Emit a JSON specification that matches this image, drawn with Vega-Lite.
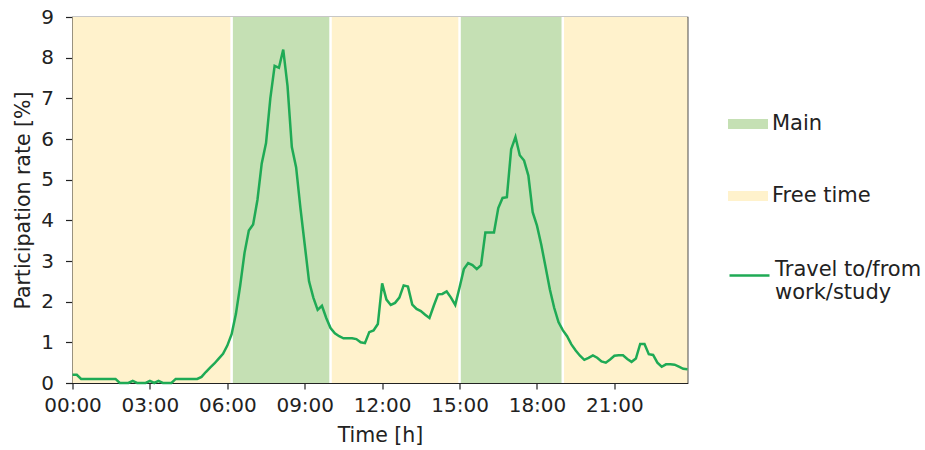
{
  "$schema": "https://vega.github.io/schema/vega-lite/v6.json",
  "width": 615,
  "height": 366,
  "autosize": {"type": "none"},
  "padding": {"left": 72.5, "top": 17, "right": 237.5, "bottom": 67},
  "background": "white",
  "config": {
    "font": "DejaVu Sans",
    "view": {"stroke": "#222222", "strokeWidth": 1.2},
    "axis": {
      "grid": false,
      "domainColor": "#222222",
      "domainWidth": 1.2,
      "tickColor": "#222222",
      "tickWidth": 1.2,
      "labelColor": "#222222",
      "titleColor": "#222222",
      "labelFontSize": 20,
      "titleFontSize": 20.5,
      "titleFontWeight": "normal",
      "labelOverlap": false,
      "labelFlush": false,
      "zindex": 1
    },
    "legend": {
      "labelColor": "#222222",
      "labelFontSize": 21,
      "padding": 0,
      "labelOffset": 4
    }
  },
  "datasets": {
    "bands": [
      {"activity": "Free time", "start": 0, "end": 370},
      {"activity": "Main", "start": 370, "end": 600},
      {"activity": "Free time", "start": 600, "end": 900},
      {"activity": "Main", "start": 900, "end": 1140},
      {"activity": "Free time", "start": 1140, "end": 1430}
    ],
    "travel": [
      {"minute": 0, "rate": 0.2}, {"minute": 10, "rate": 0.2}, {"minute": 20, "rate": 0.1},
      {"minute": 30, "rate": 0.1}, {"minute": 40, "rate": 0.1}, {"minute": 50, "rate": 0.1},
      {"minute": 60, "rate": 0.1}, {"minute": 70, "rate": 0.1}, {"minute": 80, "rate": 0.1},
      {"minute": 90, "rate": 0.1}, {"minute": 100, "rate": 0.1}, {"minute": 110, "rate": 0},
      {"minute": 120, "rate": 0}, {"minute": 130, "rate": 0}, {"minute": 140, "rate": 0.05},
      {"minute": 150, "rate": 0}, {"minute": 160, "rate": 0}, {"minute": 170, "rate": 0},
      {"minute": 180, "rate": 0.05}, {"minute": 190, "rate": 0}, {"minute": 200, "rate": 0.05},
      {"minute": 210, "rate": 0}, {"minute": 220, "rate": 0}, {"minute": 230, "rate": 0},
      {"minute": 240, "rate": 0.1}, {"minute": 250, "rate": 0.1}, {"minute": 260, "rate": 0.1},
      {"minute": 270, "rate": 0.1}, {"minute": 280, "rate": 0.1}, {"minute": 290, "rate": 0.1},
      {"minute": 300, "rate": 0.15}, {"minute": 310, "rate": 0.27}, {"minute": 320, "rate": 0.38},
      {"minute": 330, "rate": 0.48}, {"minute": 340, "rate": 0.6}, {"minute": 350, "rate": 0.72},
      {"minute": 360, "rate": 0.92}, {"minute": 370, "rate": 1.2}, {"minute": 380, "rate": 1.7},
      {"minute": 390, "rate": 2.4}, {"minute": 400, "rate": 3.2}, {"minute": 410, "rate": 3.75},
      {"minute": 420, "rate": 3.9}, {"minute": 430, "rate": 4.5}, {"minute": 440, "rate": 5.4},
      {"minute": 450, "rate": 5.9}, {"minute": 460, "rate": 7.0}, {"minute": 470, "rate": 7.8},
      {"minute": 480, "rate": 7.75}, {"minute": 490, "rate": 8.2}, {"minute": 500, "rate": 7.3},
      {"minute": 510, "rate": 5.8}, {"minute": 520, "rate": 5.3}, {"minute": 530, "rate": 4.3},
      {"minute": 540, "rate": 3.4}, {"minute": 550, "rate": 2.5}, {"minute": 560, "rate": 2.1},
      {"minute": 570, "rate": 1.8}, {"minute": 580, "rate": 1.9}, {"minute": 590, "rate": 1.6},
      {"minute": 600, "rate": 1.35}, {"minute": 610, "rate": 1.22}, {"minute": 620, "rate": 1.15},
      {"minute": 630, "rate": 1.1}, {"minute": 640, "rate": 1.1}, {"minute": 650, "rate": 1.1},
      {"minute": 660, "rate": 1.08}, {"minute": 670, "rate": 1.0}, {"minute": 680, "rate": 0.98},
      {"minute": 690, "rate": 1.25}, {"minute": 700, "rate": 1.29}, {"minute": 710, "rate": 1.45},
      {"minute": 720, "rate": 2.45}, {"minute": 730, "rate": 2.05}, {"minute": 740, "rate": 1.92},
      {"minute": 750, "rate": 1.97}, {"minute": 760, "rate": 2.1}, {"minute": 770, "rate": 2.4},
      {"minute": 780, "rate": 2.37}, {"minute": 790, "rate": 1.93}, {"minute": 800, "rate": 1.82},
      {"minute": 810, "rate": 1.77}, {"minute": 820, "rate": 1.68}, {"minute": 830, "rate": 1.6},
      {"minute": 840, "rate": 1.9}, {"minute": 850, "rate": 2.18}, {"minute": 860, "rate": 2.19},
      {"minute": 870, "rate": 2.25}, {"minute": 880, "rate": 2.1}, {"minute": 890, "rate": 1.92},
      {"minute": 900, "rate": 2.35}, {"minute": 910, "rate": 2.8}, {"minute": 920, "rate": 2.95},
      {"minute": 930, "rate": 2.9}, {"minute": 940, "rate": 2.8}, {"minute": 950, "rate": 2.9},
      {"minute": 960, "rate": 3.7}, {"minute": 970, "rate": 3.7}, {"minute": 980, "rate": 3.7},
      {"minute": 990, "rate": 4.3}, {"minute": 1000, "rate": 4.55}, {"minute": 1010, "rate": 4.57},
      {"minute": 1020, "rate": 5.75}, {"minute": 1030, "rate": 6.05}, {"minute": 1040, "rate": 5.6},
      {"minute": 1050, "rate": 5.47}, {"minute": 1060, "rate": 5.1}, {"minute": 1070, "rate": 4.2},
      {"minute": 1080, "rate": 3.87}, {"minute": 1090, "rate": 3.4}, {"minute": 1100, "rate": 2.85},
      {"minute": 1110, "rate": 2.3}, {"minute": 1120, "rate": 1.85}, {"minute": 1130, "rate": 1.5},
      {"minute": 1140, "rate": 1.3}, {"minute": 1150, "rate": 1.15}, {"minute": 1160, "rate": 0.95},
      {"minute": 1170, "rate": 0.8}, {"minute": 1180, "rate": 0.67}, {"minute": 1190, "rate": 0.57},
      {"minute": 1200, "rate": 0.62}, {"minute": 1210, "rate": 0.68}, {"minute": 1220, "rate": 0.62},
      {"minute": 1230, "rate": 0.53}, {"minute": 1240, "rate": 0.5}, {"minute": 1250, "rate": 0.58},
      {"minute": 1260, "rate": 0.67}, {"minute": 1270, "rate": 0.68}, {"minute": 1280, "rate": 0.68},
      {"minute": 1290, "rate": 0.59}, {"minute": 1300, "rate": 0.52}, {"minute": 1310, "rate": 0.6},
      {"minute": 1320, "rate": 0.96}, {"minute": 1330, "rate": 0.96}, {"minute": 1340, "rate": 0.71},
      {"minute": 1350, "rate": 0.69}, {"minute": 1360, "rate": 0.5}, {"minute": 1370, "rate": 0.4},
      {"minute": 1380, "rate": 0.46}, {"minute": 1390, "rate": 0.46}, {"minute": 1400, "rate": 0.45},
      {"minute": 1410, "rate": 0.4}, {"minute": 1420, "rate": 0.35}, {"minute": 1430, "rate": 0.34}
    ]
  },
  "layer": [
    {
      "data": {"name": "bands"},
      "mark": {"type": "rect"},
      "encoding": {
        "x": {
          "field": "start",
          "type": "quantitative",
          "scale": {"domain": [0, 1430], "nice": false, "zero": false},
          "axis": {
            "title": "Time [h]",
            "values": [0, 180, 360, 540, 720, 900, 1080, 1260],
            "labelExpr": "(datum.value < 600 ? '0' : '') + floor(datum.value / 60) + ':00'",
            "tickSize": 6,
            "labelPadding": 6,
            "titlePadding": 10
          }
        },
        "x2": {"field": "end"},
        "fill": {
          "field": "activity",
          "type": "nominal",
          "scale": {"domain": ["Main", "Free time"], "range": ["#c5e0b4", "#fff2cc"]},
          "legend": {
            "title": null,
            "orient": "none",
            "legendX": 655.5,
            "legendY": 87,
            "symbolType": "M-1,-0.25H1V0.25H-1Z",
            "symbolSize": 1600,
            "symbolStrokeWidth": 0,
            "rowPadding": 42
          }
        }
      }
    },
    {
      "data": {"name": "bands"},
      "transform": [{"filter": "datum.start > 0"}],
      "mark": {"type": "rule", "color": "white", "strokeWidth": 2.5},
      "encoding": {"x": {"field": "start", "type": "quantitative"}}
    },
    {
      "data": {"name": "travel"},
      "mark": {"type": "line", "strokeWidth": 2.5, "interpolate": "linear"},
      "encoding": {
        "x": {"field": "minute", "type": "quantitative"},
        "y": {
          "field": "rate",
          "type": "quantitative",
          "scale": {"domain": [0, 9], "nice": false},
          "axis": {
            "title": "Participation rate [%]",
            "values": [0, 1, 2, 3, 4, 5, 6, 7, 8, 9],
            "tickSize": 7,
            "labelPadding": 12,
            "titlePadding": 7
          }
        },
        "stroke": {
          "datum": "Travel to/from work/study",
          "type": "nominal",
          "scale": {"range": ["#1faa55"]},
          "legend": {
            "title": null,
            "orient": "none",
            "legendX": 655.5,
            "legendY": 237,
            "symbolType": "stroke",
            "symbolSize": 1600,
            "symbolStrokeWidth": 2.5,
            "labelBaseline": "alphabetic",
            "labelExpr": "datum.label == 'Travel to/from work/study' ? ['Travel to/from', 'work/study'] : datum.label"
          }
        }
      }
    }
  ]
}
